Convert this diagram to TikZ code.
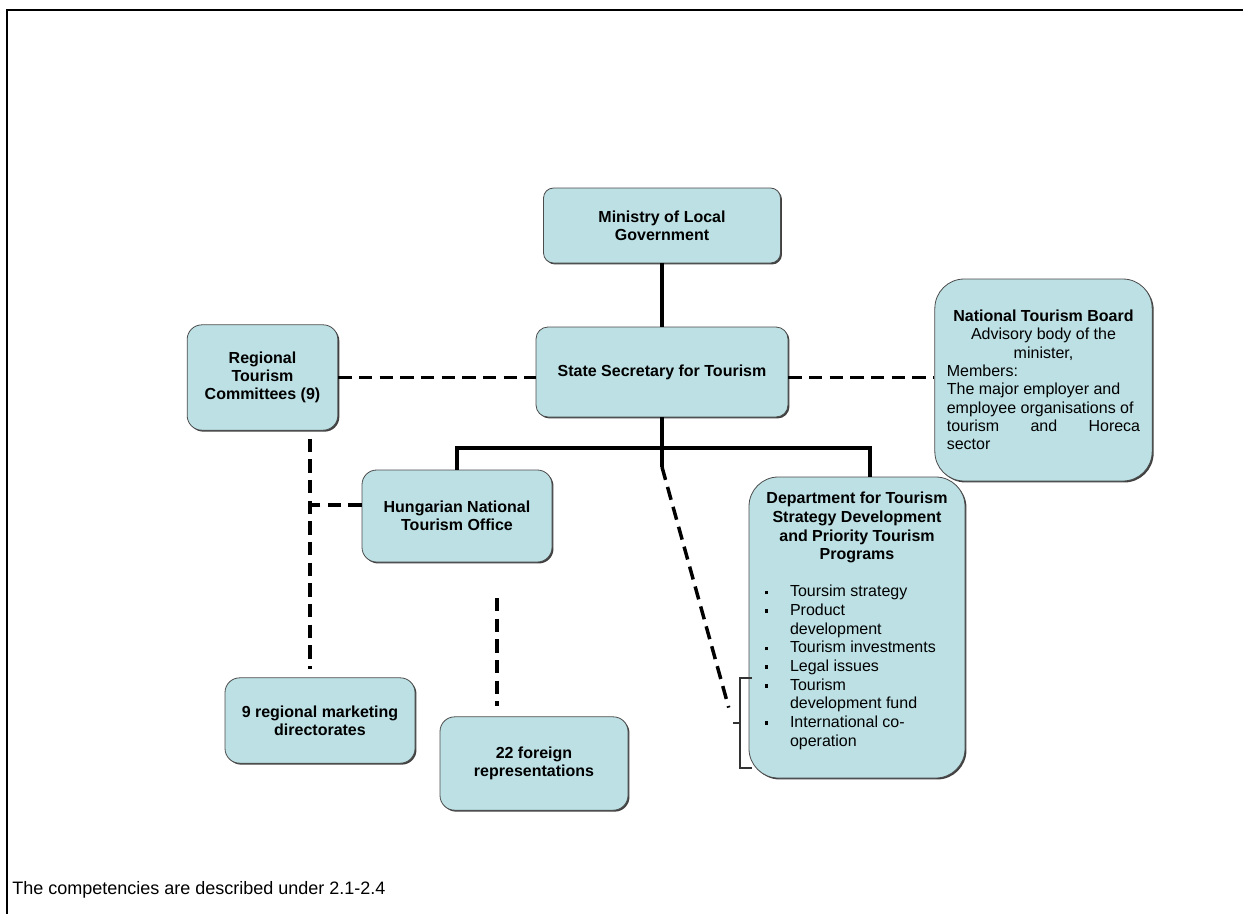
\documentclass[tikz,border=0pt]{standalone}
\usepackage{fontspec}
\setmainfont{Liberation Sans}
\usetikzlibrary{shadows}

\definecolor{boxcyan}{RGB}{188,224,228}
\newcommand{\sqitem}{\hspace*{3pt}\makebox[18.75pt][l]{\rule[1.9pt]{2.6pt}{2.6pt}}}
\newcommand{\sqcont}{\hspace*{21.75pt}}

\tikzset{
  office/.style={draw=black!70, line width=0.6pt, fill=boxcyan, rounded corners=#1,
    drop shadow={shadow xshift=1.1pt, shadow yshift=-1.1pt, fill=black!75, opacity=1},
    align=center, font=\fontsize{12}{13.5}\selectfont\bfseries},
  office/.default=11pt,
  tree/.style={line width=2.3pt},
  link/.style={line width=2.6pt, dash pattern=on 10pt off 5.5pt}
}

\begin{document}
\begin{tikzpicture}[x=0.75pt, y=-0.75pt]
        \useasboundingbox (0,0) rectangle (1243,914);
        % Frame
        \draw[line width=2.2pt] (7,914) -- (7,10) -- (1243,10);
        % Boxes
        \node[office=7.5pt, minimum width=177.75pt, minimum height=56.25pt] (min) at (662,225.5) {Ministry of Local\\Government};
        \node[office=9pt, minimum width=189pt, minimum height=67.5pt] (sec) at (662,372) {State Secretary for Tourism};
        \node[office, minimum width=113pt, minimum height=79pt] (reg) at (262.5,377.5) {Regional\\Tourism\\Committees (9)};
        \node[office=22pt, text width=145pt, inner xsep=9pt, minimum height=151.5pt, align=none, font=\fontsize{12}{13.75}\selectfont] (ntb) at (1043.5,380)
          {{\centering\textbf{National Tourism Board}\\Advisory body of the\\minister,\par}
           Members:\\The major employer and\\employee organisations of\\tourism\hfill and\hfill Horeca\\sector};
        \node[office, minimum width=142.5pt, minimum height=69pt] (hnto) at (457,516) {Hungarian National\\Tourism Office};
        \node[office=22pt, text width=144pt, inner xsep=9pt, minimum height=225.75pt, align=none, font=\fontsize{12}{14}\selectfont] (dept) at (857,627.5)
          {{\centering\bfseries Department for Tourism\\Strategy Development\\and Priority Tourism\\Programs\par}
           \vspace{13.75pt}
           {\raggedright
           \sqitem Toursim strategy\\
           \sqitem Product\\
           \sqcont development\\
           \sqitem Tourism investments\\
           \sqitem Legal issues\\
           \sqitem Tourism\\
           \sqcont development fund\\
           \sqitem International co-\\
           \sqcont operation\rule[-12.5pt]{0pt}{0pt}\par}};
        \node[office, minimum width=142.5pt, minimum height=64pt] (mkt) at (320,720.5) {9 regional marketing\\directorates};
        \node[office, minimum width=141pt, minimum height=70pt] (abroad) at (534,763.5) {22 foreign\\representations};
        % Note
        \node[anchor=base west, inner sep=0pt, font=\fontsize{13.5}{16}\selectfont] (note) at (12,894) {The competencies are described under 2.1-2.4};
        % Helper points
        \coordinate (fork) at (662,467);
        \coordinate (bar-l) at (457,448);
        \coordinate (bar-r) at (870,448);
        \coordinate (spine) at (310,505);
        \coordinate (drop) at (497,598);
        \coordinate (tick) at (733,723);
        % Solid lines
        \draw[tree] (min.south) -- (sec.north);
        \draw[tree] (sec.south) -- (fork);
        \draw[tree] (hnto.north) -- (bar-l) -- (bar-r) -- (bar-r |- dept.north);
        % Dashed lines
        \draw[link] (reg.east) -- (reg.east -| sec.west);
        \draw[link] (reg.east -| sec.east) -- (reg.east -| ntb.west);
        \draw[link, shorten <=6pt, shorten >=6pt] (reg.south -| spine) -- (mkt.north -| spine);
        \draw[link] (spine -| hnto.west) -- (spine);
        \draw[link, shorten >=7.5pt] (drop) -- (drop |- abroad.north);
        \draw[link, shorten >=12pt] (fork) -- (tick);
        % Bracket
        \draw[line width=0.8pt, black!80] (752,678) -- (740,678) -- (740,768) -- (752,768);
        \draw[line width=0.8pt, black!80] (740,723) -- (tick);
\end{tikzpicture}
\end{document}
